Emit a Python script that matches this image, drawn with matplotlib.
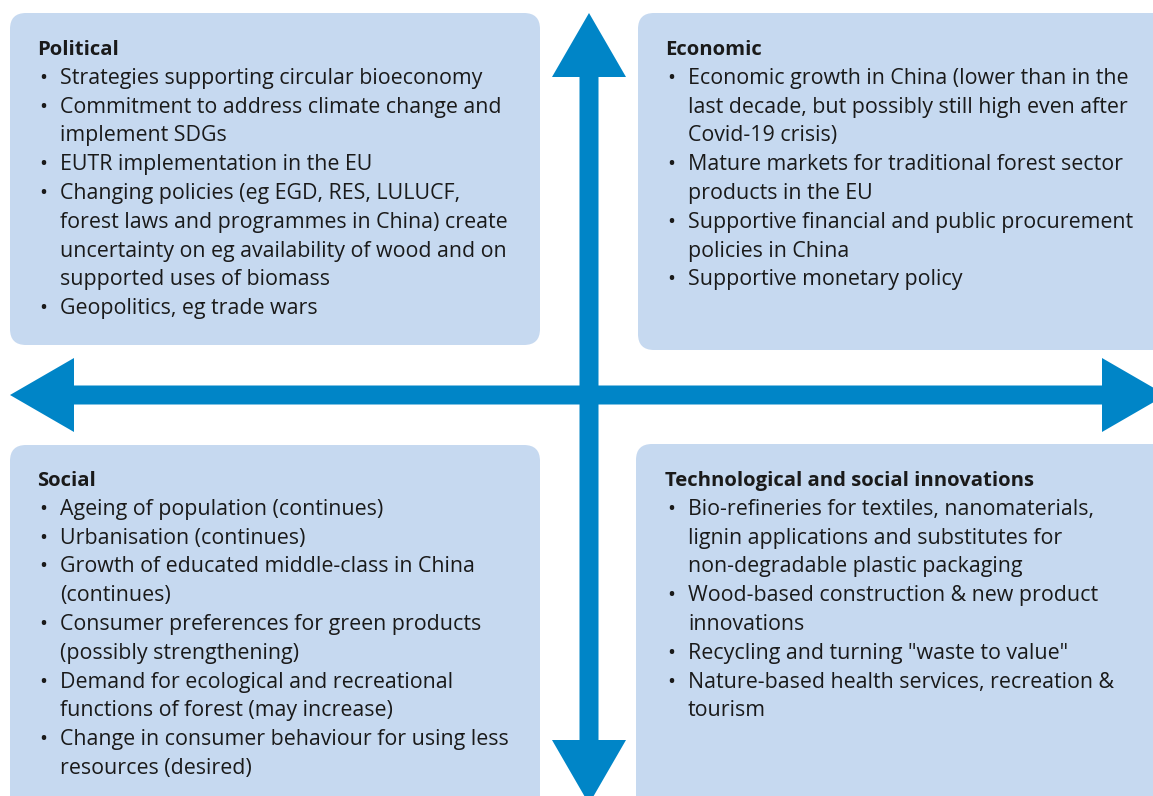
import matplotlib.pyplot as plt
from matplotlib.patches import FancyBboxPatch, FancyArrow

# quadrant titles and bullet items (each item is a list of wrapped lines)
titles = ["Political", "Economic", "Social", "Technological and social innovations"]

political_items = [
    ["Strategies supporting circular bioeconomy"],
    ["Commitment to address climate change and", "implement SDGs"],
    ["EUTR implementation in the EU"],
    ["Changing policies (eg EGD, RES, LULUCF,",
     "forest laws and programmes in China) create",
     "uncertainty on eg availability of wood and on",
     "supported uses of biomass"],
    ["Geopolitics, eg trade wars"],
]
economic_items = [
    ["Economic growth in China (lower than in the",
     "last decade, but possibly still high even after",
     "Covid-19 crisis)"],
    ["Mature markets for traditional forest sector", "products in the EU"],
    ["Supportive financial and public procurement", "policies in China"],
    ["Supportive monetary policy"],
]
social_items = [
    ["Ageing of population (continues)"],
    ["Urbanisation (continues)"],
    ["Growth of educated middle-class in China", "(continues)"],
    ["Consumer preferences for green products", "(possibly strengthening)"],
    ["Demand for ecological and recreational", "functions of forest (may increase)"],
    ["Change in consumer behaviour for using less", "resources (desired)"],
]
tech_items = [
    ["Bio-refineries for textiles, nanomaterials,",
     "lignin applications and substitutes for",
     "non-degradable plastic packaging"],
    ["Wood-based construction & new product", "innovations"],
    ["Recycling and turning \"waste to value\""],
    ["Nature-based health services, recreation &", "tourism"],
]

W, H = 1153, 796
box_color = "#C6D9F0"
arrow_color = "#0085C7"
text_color = "#1a1a1a"
font = "Open Sans"
fs = 15.4
title_fs = 14.6
line_h = 28.8

fig = plt.figure(figsize=(W / 100, H / 100), dpi=100)
ax = fig.add_axes([0, 0, 1, 1])
ax.set_xlim(0, W)
ax.set_ylim(H, 0)
ax.axis("off")

# boxes: (x0, y0, x1, y1) in pixels
boxes = [(10, 13, 540, 345), (638, 13, 1175, 350), (10, 445, 540, 820), (636, 444, 1175, 820)]
for x0, y0, x1, y1 in boxes:
    ax.add_patch(FancyBboxPatch((x0, y0), x1 - x0, y1 - y0,
                                boxstyle="round,pad=0,rounding_size=16",
                                fc=box_color, ec="none", zorder=1))

# cross of arrows
cx, cy = 589, 395
kw = dict(width=19, head_width=74, head_length=64, length_includes_head=True,
          fc=arrow_color, ec="none", zorder=2)
ax.add_patch(FancyArrow(cx, cy, 0, 13 - cy, **kw))
ax.add_patch(FancyArrow(cx, cy, 0, 804 - cy, **kw))
ax.add_patch(FancyArrow(cx, cy, 10 - cx, 0, **kw))
ax.add_patch(FancyArrow(cx, cy, 1166 - cx, 0, **kw))

# text blocks
origins = [(37, 55), (665, 55), (37, 486), (665, 486)]
all_items = [political_items, economic_items, social_items, tech_items]
for (tx, ty), title, items in zip(origins, titles, all_items):
    ax.text(tx, ty, title, fontsize=title_fs, fontweight="bold", family=font,
            color=text_color, va="baseline", zorder=3)
    y = ty
    for item in items:
        for k, line in enumerate(item):
            y += line_h
            if k == 0:
                ax.text(tx + 2, y, "\u2022", fontsize=fs, family=font,
                        color=text_color, va="baseline", zorder=3)
            ax.text(tx + 23, y, line, fontsize=fs, family=font,
                    color=text_color, va="baseline", zorder=3)

fig.savefig("out.png", dpi=100)
